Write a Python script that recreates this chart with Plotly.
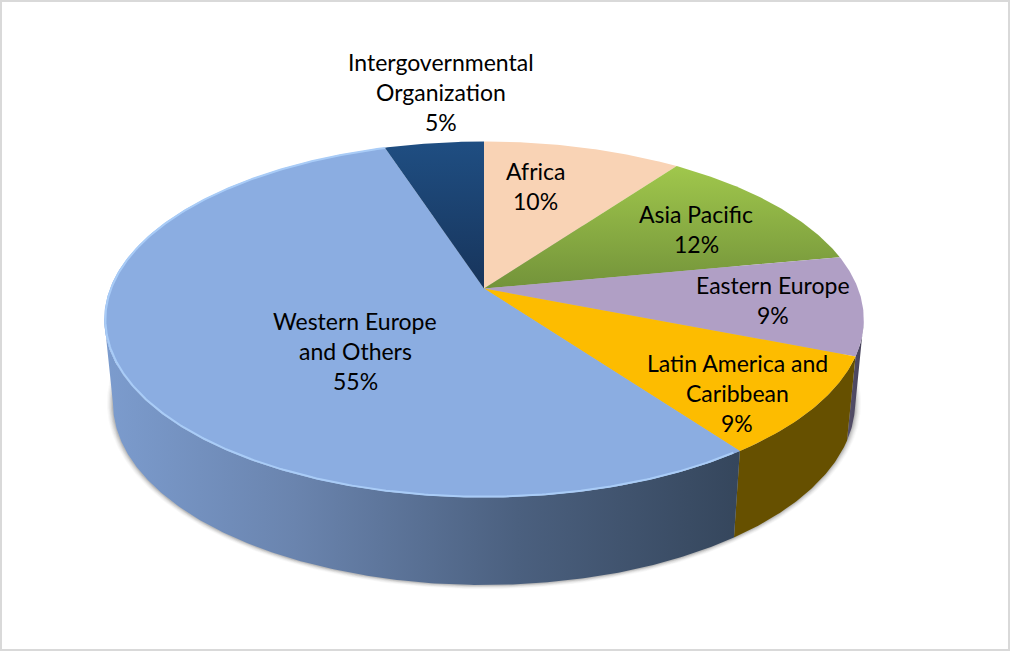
import numpy as np
import plotly.graph_objects as go

# ---- data ----
categories = ["Africa", "Asia Pacific", "Eastern Europe", "Latin America and Caribbean",
              "Western Europe and Others", "Intergovernmental Organization"]
values = [10, 12, 9, 9, 55, 5]

# ---- label layout ----
label_lines = [["Africa"], ["Asia Pacific"], ["Eastern Europe"], ["Latin America and", "Caribbean"],
               ["Western Europe", "and Others"], ["Intergovernmental", "Organization"]]
label_center_x = [535, 696, 773, 737, 355, 441]
label_first_y = [171, 214, 285, 363, 321, 62]
LINE_STEP = 30

# ---- geometry of the tilted disc ----
CX = 484
TOP = dict(y0=288.5, A=172.6, B=374.0)
BOTTOM = dict(y0=371.3, A=176.5, B=365.4)
K = 0.174
EDGE_ANGLE = np.degrees(np.arccos(-K))  # where the wall turns out of sight


def project(theta_deg, plane, r=1.0):
    t = np.radians(theta_deg)
    u, v = r * np.sin(t), r * np.cos(t)
    d = 1 + K * v
    return CX + plane["B"] * u / d, plane["y0"] - plane["A"] * v / d


def arc(a, b, plane, r=1.0):
    n = max(int(abs(b - a) * 2), 2)
    return project(np.linspace(a, b, n), plane, r)


# ---- styles ----
top_fill = ["#F9D3B5", None, "#B09FC5", "#FDBC00", "#8BADE1", None]
top_grad = [None, ("#A0C74C", "#73933A"), None, None, None, ("#1F4E82", "#17345B")]
wall_colors = {
    2: [[0, "#55506A"], [1, "#47425A"]],
    3: [[0, "#665000"], [1, "#665000"]],
    4: [[0, "#7C9CCE"], [0.3, "#6A84AE"], [0.65, "#4B607F"], [1, "#35465C"]],
}

fig = go.Figure()


def poly(xs, ys, color=None, grad=None, gtype="vertical"):
    kw = dict(fillcolor=color) if color else dict(
        fillgradient=dict(type=gtype, colorscale=grad))
    fig.add_trace(go.Scatter(x=xs, y=ys, mode="lines", fill="toself", line=dict(width=0),
                             hoverinfo="skip", showlegend=False, **kw))


# soft shadow under the wall
for px, alpha in zip([6, 5, 4, 3, 2, 1], [.03, .04, .05, .07, .09, .12]):
    xs, ys = arc(0, 360, BOTTOM)
    cy = 403
    xs2 = CX + (xs - CX) * (371 + px) / 371
    ys2 = cy + (ys - cy) * (182 + px * 0.7) / 182
    poly(xs2, ys2, color=f"rgba(60,60,60,{alpha})")

# slice boundaries
cum = np.cumsum([0] + values) * 3.6

# walls
for i in [2, 3, 4]:
    a, b = cum[i], cum[i + 1]
    a = max(a, EDGE_ANGLE)
    b = min(b, 360 - EDGE_ANGLE)
    tx, ty = arc(a, b, TOP)
    bx, by = arc(b, a, BOTTOM)
    poly(np.r_[tx, bx, tx[0]], np.r_[ty, by, ty[0]], grad=wall_colors[i], gtype="horizontal")

# top faces
for i in range(len(values)):
    ax, ay = arc(cum[i], cum[i + 1], TOP)
    xs = np.r_[CX, ax, CX]
    ys = np.r_[TOP["y0"], ay, TOP["y0"]]
    if top_fill[i]:
        poly(xs, ys, color=top_fill[i])
    else:
        c0, c1 = top_grad[i]
        poly(xs, ys, grad=[[0, c1], [1, c0]], gtype="vertical")

# bevel highlight along the rim of the large slice
hx, hy = arc(cum[4] + 1, cum[5], TOP, r=0.997)
fig.add_trace(go.Scatter(x=hx, y=hy, mode="lines", line=dict(color="#A9CCF7", width=2),
                         hoverinfo="skip", showlegend=False))

# labels, one text per line
annotations = []
for lines, v, x, y in zip(label_lines, values, label_center_x, label_first_y):
    for j, t in enumerate(lines + [f"{v}%"]):
        annotations.append(dict(x=x, y=y + j * LINE_STEP, text=t, showarrow=False,
                                xanchor="center", yanchor="middle",
                                font=dict(family="Lato", size=23, color="#000000")))

fig.update_layout(
    width=1010, height=651, margin=dict(l=0, r=0, t=0, b=0),
    paper_bgcolor="#FFFFFF", plot_bgcolor="#FFFFFF", showlegend=False,
    xaxis=dict(range=[0, 1010], visible=False, fixedrange=True),
    yaxis=dict(range=[651, 0], visible=False, fixedrange=True),
    annotations=annotations,
    shapes=[dict(type="rect", xref="paper", yref="paper", x0=0, y0=0, x1=1, y1=1,
                 line=dict(color="#D9D9D9", width=4), fillcolor="rgba(0,0,0,0)")],
)

fig.write_html("out.html", config=dict(displayModeBar=False),
               post_script="document.body.style.margin='0';document.body.style.overflow='hidden';")
